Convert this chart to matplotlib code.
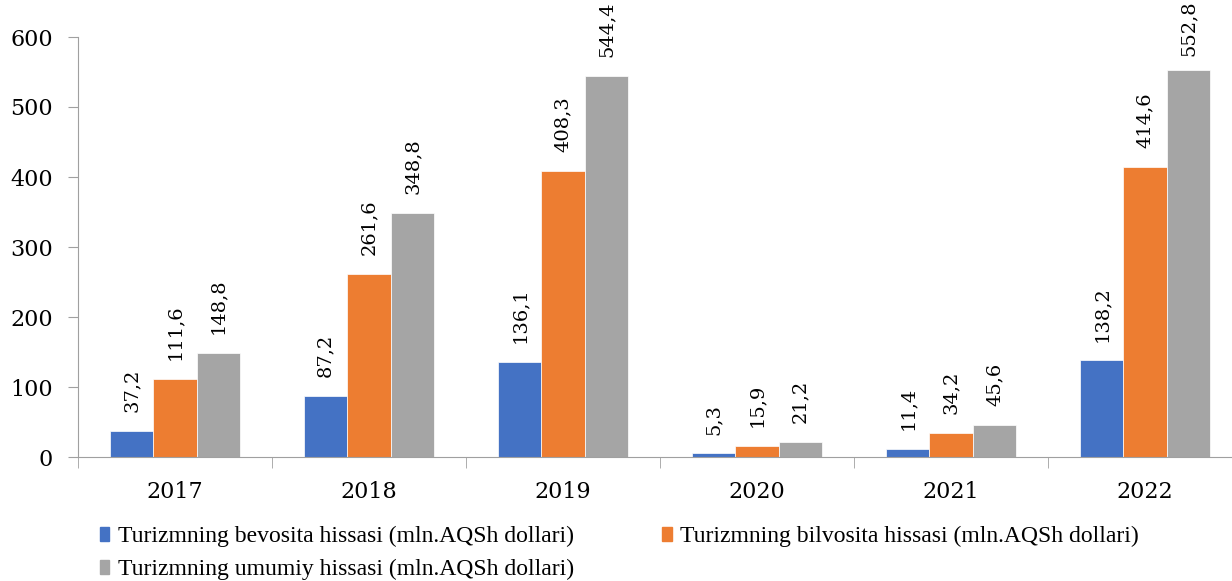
import numpy as np
import matplotlib.pyplot as plt
from matplotlib.patches import Patch

# Data
years = ["2017", "2018", "2019", "2020", "2021", "2022"]
direct = [37.2, 87.2, 136.1, 5.3, 11.4, 138.2]
indirect = [111.6, 261.6, 408.3, 15.9, 34.2, 414.6]
total = [148.8, 348.8, 544.4, 21.2, 45.6, 552.8]
series_names = [
    "Turizmning bevosita hissasi (mln.AQSh dollari)",
    "Turizmning bilvosita hissasi (mln.AQSh dollari)",
    "Turizmning umumiy hissasi (mln.AQSh dollari)",
]
colors = ["#4472C4", "#ED7D31", "#A5A5A5"]
yticks = [0, 100, 200, 300, 400, 500, 600]

plt.rcParams['font.family'] = ['DejaVu Serif']

fig = plt.figure(figsize=(12.32, 5.81), dpi=100)
ax = fig.add_axes([78 / 1232, 124 / 581, 1164 / 1232, 420 / 581])

x = np.arange(len(years))
w = 0.224
labels = []
for i, (vals, col) in enumerate(zip([direct, indirect, total], colors)):
    pos = x + (i - 1) * w
    ax.bar(pos, vals, width=w, color=col, edgecolor='white', linewidth=0.5)
    for p, v in zip(pos, vals):
        t = ax.annotate(f"{v:.1f}".replace('.', ','), (p, v), xytext=(0, 13.5),
                        textcoords='offset points', rotation=90,
                        ha='center', va='bottom', fontsize=14)
        labels.append(t)

ax.set_xlim(-0.5, len(years) - 0.5)
ax.set_ylim(0, 600)
ax.set_yticks(yticks)
ax.set_xticks(x)
ax.set_xticklabels(years)
ax.set_xticks(np.arange(-0.5, len(years), 1), minor=True)
ax.tick_params(axis='x', which='major', length=0, pad=17, labelsize=16)
ax.tick_params(axis='x', which='minor', length=8, color='#A0A0A0')
ax.tick_params(axis='y', length=7, color='#A0A0A0', labelsize=16, pad=11)
for s in ['top', 'right']:
    ax.spines[s].set_visible(False)
for s in ['left', 'bottom']:
    ax.spines[s].set_color('#A0A0A0')

# keep the tallest labels inside the figure, like the original
fig.canvas.draw()
renderer = fig.canvas.get_renderer()
top = fig.bbox.height
for t in labels:
    bb = t.get_window_extent(renderer)
    if bb.y1 > top:
        over = (bb.y1 - top) * 72 / fig.dpi
        t.xyann = (0, t.xyann[1] - over)

# row-major legend order: blue, orange / gray
order = [0, 2, 1]
handles = [Patch(color=colors[k]) for k in order]
fig.legend(handles, [series_names[k] for k in order], loc='upper left',
           bbox_to_anchor=(100 / 1232, 1 - 526 / 581),
           ncol=2, frameon=False, handlelength=0.4, handleheight=0.55,
           handletextpad=0.35, columnspacing=3.75, labelspacing=0.5,
           borderaxespad=0, borderpad=0,
           prop={'family': 'Liberation Serif', 'size': 17})

fig.savefig("out.png", dpi=100)
